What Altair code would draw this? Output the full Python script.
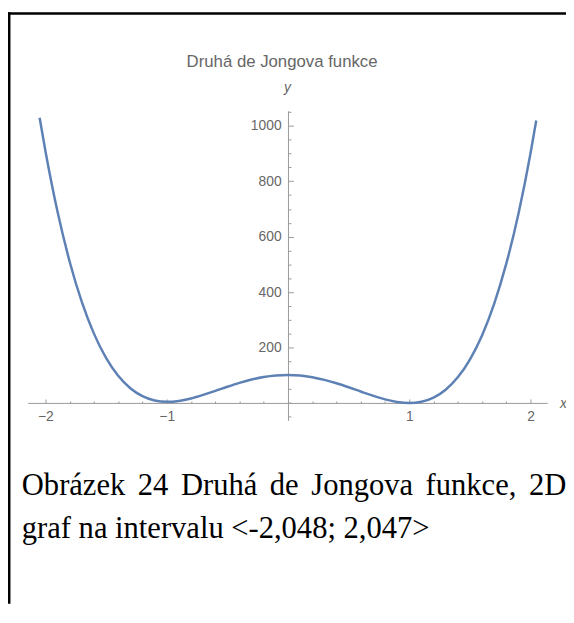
import altair as alt
import pandas as pd

# ---------------- data ----------------
x_values = [-2.048, -2.0, -1.9, -1.8, -1.7, -1.6, -1.5, -1.4, -1.3, -1.2, -1.1, -1.0,
            -0.9, -0.8, -0.7, -0.6, -0.5, -0.4, -0.3, -0.2, -0.1, 0.0,
            0.1, 0.2, 0.3, 0.4, 0.5, 0.6, 0.7, 0.8, 0.9, 1.0,
            1.1, 1.2, 1.3, 1.4, 1.5, 1.6, 1.7, 1.8, 1.9, 2.0, 2.047]
y_values = [1029.0, 909.0, 689.6, 509.6, 364.5, 250.1, 162.5, 97.9, 52.9, 24.2, 8.8, 4.0,
            7.2, 16.2, 28.9, 43.5, 58.5, 72.5, 84.5, 93.6, 99.2, 101.0,
            98.8, 92.8, 83.3, 70.9, 56.5, 41.1, 26.1, 13.0, 3.6, 0.0,
            4.4, 19.4, 47.7, 92.3, 156.5, 243.7, 357.7, 502.4, 682.0, 901.0, 1018.9]

x_tick_values = [-2.0, -1.8, -1.6, -1.4, -1.2, -1.0, -0.8, -0.6, -0.4, -0.2, 0.0,
                 0.2, 0.4, 0.6, 0.8, 1.0, 1.2, 1.4, 1.6, 1.8, 2.0]
x_label_values = [-2, -1, 1, 2]
y_tick_values = [-50, 0, 50, 100, 150, 200, 250, 300, 350, 400, 450, 500, 550,
                 600, 650, 700, 750, 800, 850, 900, 950, 1000, 1050]
y_label_values = [200, 400, 600, 800, 1000]

chart_title = "Druhá de Jongova funkce"
x_title = "x"
y_title = "y"
caption_line1 = ["Obrázek", "24", "Druhá", "de", "Jongova", "funkce,", "2D"]
caption_line2 = "graf na intervalu <-2,048; 2,047>"

# ---------------- layout / style ----------------
W, H = 566, 600
X_RANGE = [20, 547]
Y_RANGE = [414, 100]
X_DOMAIN = [-2.146, 2.138]
Y_DOMAIN = [-63, 1054]
X_AXIS_Y = 396.3          # pixel of y = 0
Y_AXIS_X = 284            # pixel of x = 0

AXIS_COLOR = "#999999"
TEXT_GRAY = "#666666"
CURVE = "#5E81B5"
SANS = "Liberation Sans"
SERIF = "Liberation Serif"

# justified first caption line: start of each word (pixels)
line1_x = [14, 131.7, 175.4, 265.6, 307.6, 423.6, 528.4]
CAP_SIZE = 31

df = pd.DataFrame({"x": x_values, "y": y_values})

x_axis = alt.Axis(
    orient="top", offset=-X_AXIS_Y, values=x_tick_values, format=".0f",
    labelExpr=f"indexof({x_label_values}, datum.value) >= 0 ? datum.label : ''",
    labelBaseline="middle", labelAlign="center", labelPadding=-17.5,
    labelFont=SANS, labelFontSize=14, labelColor=TEXT_GRAY,
    labelOverlap=False, labelFlush=False,
    tickSize={"condition": {"test": f"indexof({x_label_values}, datum.value) < 0", "value": 2},
              "value": 4},
    tickColor=AXIS_COLOR, domainColor=AXIS_COLOR, grid=False,
    title=x_title, titleX=563, titleY=1, titleAngle=0, titleAlign="center",
    titleBaseline="middle", titleFont=SANS, titleFontSize=14, titleFontStyle="italic",
    titleFontWeight="normal", titleColor=TEXT_GRAY,
)

y_axis = alt.Axis(
    orient="right", offset=Y_AXIS_X - W, values=y_tick_values, format="d",
    labelExpr=f"indexof({y_label_values}, datum.value) >= 0 ? datum.label : ''",
    labelBaseline="middle", labelAlign="right", labelPadding=-12.5,
    labelFont=SANS, labelFontSize=14, labelColor=TEXT_GRAY,
    labelOverlap=False, labelFlush=False,
    tickSize={"condition": {"test": f"indexof({y_label_values}, datum.value) < 0", "value": 3},
              "value": 5.5},
    tickColor=AXIS_COLOR, domainColor=AXIS_COLOR, grid=False,
    title=y_title, titleX=-1, titleY=80, titleAngle=0, titleAlign="center",
    titleBaseline="alphabetic", titleFont=SANS, titleFontSize=14, titleFontStyle="italic",
    titleFontWeight="normal", titleColor=TEXT_GRAY,
)

curve = alt.Chart(df).mark_line(color=CURVE, strokeWidth=2.5, interpolate="monotone").encode(
    x=alt.X("x:Q", scale=alt.Scale(domain=X_DOMAIN, range=X_RANGE, nice=False, zero=False), axis=x_axis),
    y=alt.Y("y:Q", scale=alt.Scale(domain=Y_DOMAIN, range=Y_RANGE, nice=False, zero=False), axis=y_axis),
)

one = pd.DataFrame({"k": [0]})

title_mark = alt.Chart(one).mark_text(
    align="center", baseline="alphabetic", font=SANS, fontSize=17, color=TEXT_GRAY
).encode(x=alt.value(278), y=alt.value(56), text=alt.value(chart_title))

layers = [curve, title_mark]

for word, px in zip(caption_line1, line1_x):
    layers.append(alt.Chart(one).mark_text(
        align="left", baseline="alphabetic", font=SERIF, fontSize=CAP_SIZE, color="black"
    ).encode(x=alt.value(px), y=alt.value(489.5), text=alt.value(word)))

layers.append(alt.Chart(one).mark_text(
    align="left", baseline="alphabetic", font=SERIF, fontSize=CAP_SIZE, color="black"
).encode(x=alt.value(14), y=alt.value(533.5), text=alt.value(caption_line2)))

# page frame (top and left edges; the others fall outside the picture)
layers.append(alt.Chart(one).mark_rule(color="black", strokeWidth=2.5).encode(
    x=alt.value(1.25), y=alt.value(0), y2=alt.value(H)))
layers.append(alt.Chart(one).mark_rule(color="black", strokeWidth=2.5).encode(
    x=alt.value(0), x2=alt.value(W), y=alt.value(1.25)))

chart = alt.layer(*layers).properties(
    width=W, height=H, padding=0,
    autosize=alt.AutoSizeParams(type="none"),
).configure_view(strokeWidth=0).configure_axis(grid=False)

chart.save("out.html", embed_options={"renderer": "svg", "actions": False})
